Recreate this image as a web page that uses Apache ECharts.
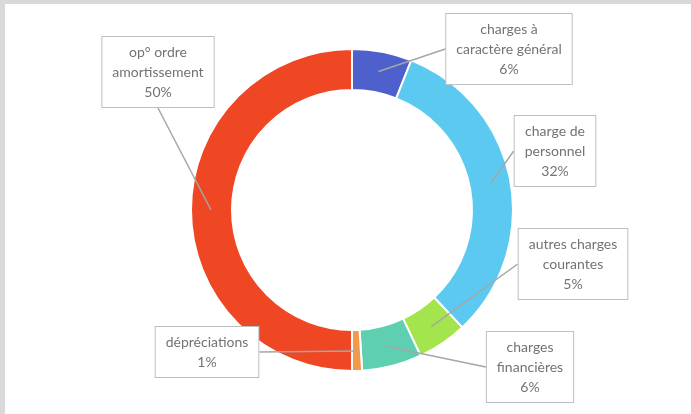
<!DOCTYPE html>
<html>
<head>
<meta charset="utf-8">
<script src="https://cdn.jsdelivr.net/npm/echarts@6/dist/echarts.min.js"></script>
<style>
  html, body { margin: 0; padding: 0; background: #d9d9d9; }
  #donut {
    position: absolute;
    left: 5px;
    top: 4px;
    width: 686px;
    height: 410px;
    background: #ffffff;
  }
</style>
</head>
<body>
<div id="donut"></div>
<script>
// catégories de dépenses et parts (%)
var categories = [
  'charges à\ncaractère général',
  'charge de\npersonnel',
  'autres charges\ncourantes',
  'charges\nfinancières',
  'dépréciations',
  'op° ordre\namortissement'
];
var values = [6, 32, 5, 6, 1, 50];
var colors = ['#4e60cc', '#5cc9f1', '#a4e44c', '#5ecfb1', '#f39a4a', '#ef4623'];

// positions des étiquettes (centre de la boîte)
var labelSpots = [
  [504, 45],
  [550, 147],
  [568, 260],
  [525, 363],
  [202, 348],
  [153, 68]
];

var chartDom = document.getElementById('donut');
var myChart = echarts.init(chartDom);

var ringData = categories.map(function (name, i) {
  return { name: name, value: values[i], itemStyle: { color: colors[i] } };
});
// même données, invisibles : sert seulement à porter les bulles
// pour que la flèche parte du milieu de l'anneau
var calloutData = categories.map(function (name, i) {
  return { name: name, value: values[i] };
});

var option = {
  animation: false,
  series: [
    {
      type: 'pie',
      center: [347, 206],
      radius: [120, 161],
      startAngle: 90,
      clockwise: true,
      data: ringData,
      silent: true,
      itemStyle: {
        borderColor: '#ffffff',
        borderWidth: 2
      },
      label: { show: false },
      labelLine: { show: false }
    },
    {
      type: 'pie',
      center: [347, 206],
      radius: [0, 141],
      startAngle: 90,
      clockwise: true,
      percentPrecision: 0,
      silent: true,
      z: 3,
      data: calloutData,
      itemStyle: {
        color: 'rgba(0,0,0,0)',
        borderWidth: 0
      },
      label: {
        show: true,
        formatter: '{b}\n{d}%',
        fontFamily: 'Lato',
        fontSize: 14,
        lineHeight: 20,
        color: '#737373',
        backgroundColor: '#ffffff',
        borderColor: '#bfbfbf',
        borderWidth: 1,
        padding: [5, 10],
        align: 'center'
      },
      labelLine: {
        show: true,
        length: 1,
        length2: 0,
        lineStyle: {
          color: '#a6a6a6',
          width: 1.5
        }
      },
      labelLayout: function (params) {
        var p = labelSpots[params.dataIndex];
        return {
          x: p[0],
          y: p[1],
          align: 'center',
          verticalAlign: 'middle'
        };
      }
    }
  ]
};
option && myChart.setOption(option);
</script>
</body>
</html>
